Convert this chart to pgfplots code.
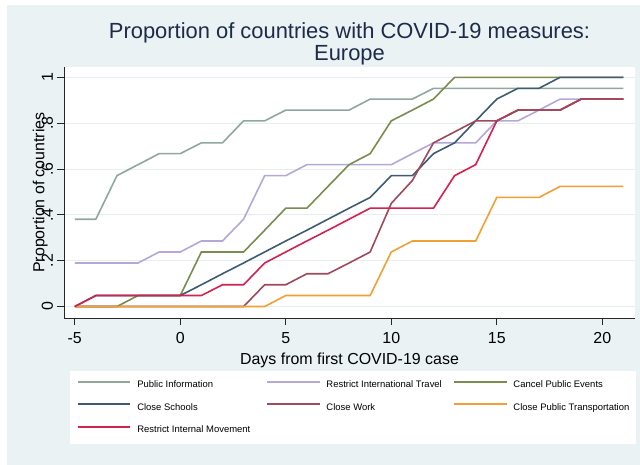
\documentclass[border=0pt]{standalone}
\usepackage{fontspec}
\setmainfont{Liberation Sans}
\usepackage{pgfplots}
\pgfplotsset{compat=1.18}

\definecolor{bgc}{HTML}{EAF2F3}
\definecolor{gridc}{HTML}{E6EEEF}
\definecolor{titlec}{HTML}{1C2B4A}
\definecolor{picol}{HTML}{90A89C}
\definecolor{ritcol}{HTML}{B5A8D8}
\definecolor{cpecol}{HTML}{7B8C4F}
\definecolor{cscol}{HTML}{3E5B74}
\definecolor{cwcol}{HTML}{9C4A5C}
\definecolor{cptcol}{HTML}{F0A035}
\definecolor{rimcol}{HTML}{D2224F}

\begin{document}
\begin{tikzpicture}
\useasboundingbox (0,0) rectangle (640bp,465bp);
\fill[white] (0,0) rectangle (640bp,465bp);
\fill[bgc] (7bp,0) rectangle (640bp,460bp);
\begin{axis}[
  at={(64bp,147bp)}, anchor=south west,
  scale only axis, width=571bp, height=251bp,
  xmin=-5.51, xmax=21.55, ymin=-0.05, ymax=1.045,
  axis x line*=bottom, axis y line*=left,
  axis line style={-, black!85, line width=0.8bp},
  axis background/.style={fill=white},
  ymajorgrids, grid style={gridc, line width=0.9bp},
  tick align=outside, major tick length=7bp,
  tick style={black!85, line width=0.8bp},
  xtick={-5,0,5,10,15,20}, xticklabels={-5,0,5,10,15,20},
  ytick={0,0.2,0.4,0.6,0.8,1}, yticklabels={0,.2,.4,.6,.8,1},
  ticklabel style={font=\fontsize{16}{16}\selectfont},
  xticklabel style={anchor=north, inner sep=0pt},
  xticklabel shift=7bp,
  yticklabel style={rotate=90, anchor=base, inner sep=0pt},
  yticklabel shift=4bp,
  every axis title/.style={at={(0.5,1)}, anchor=south, inner sep=0pt, yshift=1.6bp,
    align=center, text=titlec, font=\fontsize{22}{22}\selectfont},
  title={Proportion of countries with COVID-19 measures:\\Europe},
  every axis x label/.style={at={(axis description cs:0.5,0)}, anchor=base, yshift=-46.5bp,
    font=\fontsize{16}{16}\selectfont},
  every axis y label/.style={at={(axis description cs:-0.0345,0.5)}, rotate=90, anchor=base,
    font=\fontsize{16}{16}\selectfont},
  xlabel={Days from first COVID-19 case},
  ylabel={Proportion of countries},
  legend columns=3,
  legend style={at={(axis description cs:0.0105,-0.211)}, anchor=north west,
    fill=white, draw=none, inner xsep=7bp, inner ysep=9.5bp, row sep=13.5bp,
    font=\fontsize{9.5}{11}\selectfont,
    nodes={inner sep=0pt, text height=7bp, text depth=2bp},
    /tikz/every odd column/.style={column sep=6bp},
    /tikz/column 2/.style={column sep=16bp},
    /tikz/column 4/.style={column sep=11.5bp}},
  legend cell align=left,
  legend image code/.code={\draw[#1, line width=1.6bp] (0bp,3.4bp) -- (52.5bp,3.4bp);},
  every axis plot/.append style={line width=1.6bp},
]
\addplot[picol] coordinates {(-5,0.381)(-4,0.381)(-3,0.571)(-2,0.619)(-1,0.667)(0,0.667)(1,0.714)(2,0.714)(3,0.810)(4,0.810)(5,0.857)(6,0.857)(7,0.857)(8,0.857)(9,0.905)(10,0.905)(11,0.905)(12,0.952)(13,0.952)(14,0.952)(15,0.952)(16,0.952)(17,0.952)(18,0.952)(19,0.952)(20,0.952)(21,0.952)};
\addlegendentry{Public Information}
\addplot[ritcol] coordinates {(-5,0.190)(-4,0.190)(-3,0.190)(-2,0.190)(-1,0.238)(0,0.238)(1,0.286)(2,0.286)(3,0.381)(4,0.571)(5,0.571)(6,0.619)(7,0.619)(8,0.619)(9,0.619)(10,0.619)(11,0.667)(12,0.714)(13,0.714)(14,0.714)(15,0.810)(16,0.810)(17,0.857)(18,0.905)(19,0.905)(20,0.905)(21,0.905)};
\addlegendentry{Restrict International Travel}
\addplot[cpecol] coordinates {(-5,0)(-4,0)(-3,0)(-2,0.048)(-1,0.048)(0,0.048)(1,0.238)(2,0.238)(3,0.238)(4,0.333)(5,0.429)(6,0.429)(7,0.524)(8,0.619)(9,0.667)(10,0.810)(11,0.857)(12,0.905)(13,1)(14,1)(15,1)(16,1)(17,1)(18,1)(19,1)(20,1)(21,1)};
\addlegendentry{Cancel Public Events}
\addplot[cscol] coordinates {(-5,0)(-4,0.048)(-3,0.048)(-2,0.048)(-1,0.048)(0,0.048)(1,0.095)(2,0.143)(3,0.190)(4,0.238)(5,0.286)(6,0.333)(7,0.381)(8,0.429)(9,0.476)(10,0.571)(11,0.571)(12,0.667)(13,0.714)(14,0.810)(15,0.905)(16,0.952)(17,0.952)(18,1)(19,1)(20,1)(21,1)};
\addlegendentry{Close Schools}
\addplot[cwcol] coordinates {(-5,0)(-4,0)(-3,0)(-2,0)(-1,0)(0,0)(1,0)(2,0)(3,0)(4,0.095)(5,0.095)(6,0.143)(7,0.143)(8,0.190)(9,0.238)(10,0.450)(11,0.550)(12,0.714)(13,0.762)(14,0.810)(15,0.810)(16,0.857)(17,0.857)(18,0.857)(19,0.905)(20,0.905)(21,0.905)};
\addlegendentry{Close Work}
\addplot[cptcol] coordinates {(-5,0)(-4,0)(-3,0)(-2,0)(-1,0)(0,0)(1,0)(2,0)(3,0)(4,0)(5,0.048)(6,0.048)(7,0.048)(8,0.048)(9,0.048)(10,0.238)(11,0.286)(12,0.286)(13,0.286)(14,0.286)(15,0.476)(16,0.476)(17,0.476)(18,0.524)(19,0.524)(20,0.524)(21,0.524)};
\addlegendentry{Close Public Transportation}
\addplot[rimcol] coordinates {(-5,0)(-4,0.048)(-3,0.048)(-2,0.048)(-1,0.048)(0,0.048)(1,0.048)(2,0.095)(3,0.095)(4,0.190)(5,0.238)(6,0.286)(7,0.333)(8,0.381)(9,0.429)(10,0.429)(11,0.429)(12,0.429)(13,0.571)(14,0.619)(15,0.810)(16,0.857)(17,0.857)(18,0.857)(19,0.905)(20,0.905)(21,0.905)};
\addlegendentry{Restrict Internal Movement}
% close work again on top where it shares the path with internal movement
\addplot[cwcol, forget plot] coordinates {(15,0.810)(16,0.857)(17,0.857)(18,0.857)(19,0.905)(20,0.905)(21,0.905)};
\end{axis}
\end{tikzpicture}
\end{document}
